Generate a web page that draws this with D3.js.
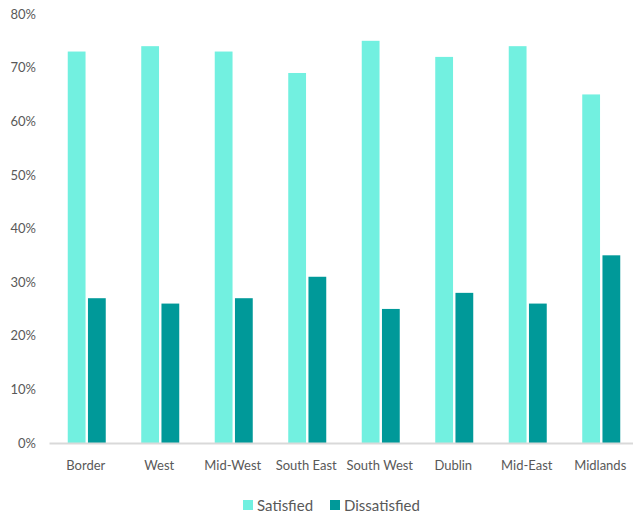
<!DOCTYPE html>
<html><head><meta charset="utf-8">
<script src="https://cdn.jsdelivr.net/npm/d3@7"></script>
<style>body{margin:0;background:#fff}svg{display:block}text{font-family:Lato,"Open Sans",sans-serif;fill:#595959}</style>
</head><body>
<script>
const categories = ["Border","West","Mid-West","South East","South West","Dublin","Mid-East","Midlands"];
const satisfied = [73,74,73,69,75,72,74,65];
const dissatisfied = [27,26,27,31,25,28,26,35];
const seriesNames = ["Satisfied","Dissatisfied"];
const colors = ["#72F0E0","#009999"];
const yTicks = [0,10,20,30,40,50,60,70,80];

const W=633,H=515;
const svg=d3.select("body").append("svg").attr("width",W).attr("height",H);
const x=d3.scaleBand().domain(categories).range([49,637]).paddingInner(0).paddingOuter(0);
const y=d3.scaleLinear().domain([0,80]).range([443,14]);
const sub=d3.scaleBand().domain(seriesNames).range([-18,20]).paddingInner(0.12);

// y axis labels
const ya=svg.append("g").attr("transform","translate(36,0)")
  .call(d3.axisLeft(y).tickValues(yTicks).tickFormat(d=>d+"%").tickSize(0).tickPadding(0));
ya.select(".domain").remove();
ya.selectAll("text").style("font-size","13px").attr("fill","#666");

const data=[satisfied,dissatisfied];
const g=svg.append("g");
categories.forEach((c,i)=>{
  seriesNames.forEach((s,j)=>{
    g.append("rect")
      .attr("x",x(c)+x.bandwidth()/2+sub(s))
      .attr("y",y(data[j][i]))
      .attr("width",sub.bandwidth())
      .attr("height",y(0)-y(data[j][i]))
      .attr("fill",colors[j]);
  });
});

// x axis
const xa=svg.append("g").attr("transform","translate(0,443)")
  .call(d3.axisBottom(x).tickSize(0).tickPadding(18));
xa.select(".domain").attr("stroke","#D9D9D9").attr("stroke-width",2);
xa.selectAll("text").style("font-size","13px").attr("fill","#666");

// legend
const lg=svg.append("g");
const lx=[243,330];
seriesNames.forEach((s,j)=>{
  lg.append("rect").attr("x",lx[j]).attr("y",500).attr("width",10).attr("height",10).attr("fill",colors[j]);
  lg.append("text").attr("x",lx[j]+14).attr("y",510.5).text(s).style("font-size","15px").attr("fill","#595959");
});
</script>
</body></html>
